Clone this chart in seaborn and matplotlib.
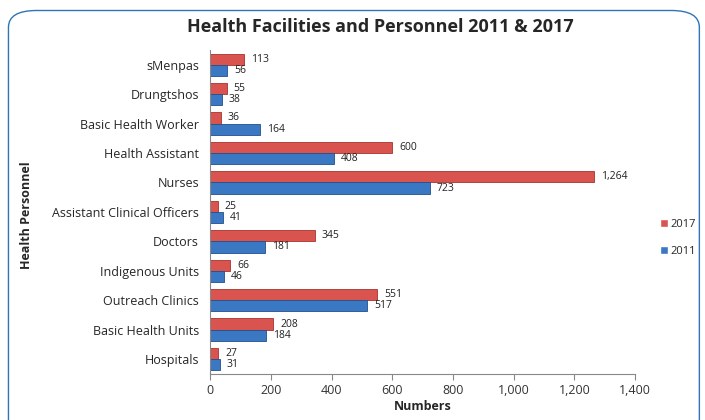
import pandas as pd
import matplotlib.pyplot as plt
import seaborn as sns
from matplotlib.patches import FancyBboxPatch

# categories top to bottom
categories = ["sMenpas", "Drungtshos", "Basic Health Worker", "Health Assistant", "Nurses",
              "Assistant Clinical Officers", "Doctors", "Indigenous Units", "Outreach Clinics",
              "Basic Health Units", "Hospitals"]
values_2017 = [113, 55, 36, 600, 1264, 25, 345, 66, 551, 208, 27]
values_2011 = [56, 38, 164, 408, 723, 41, 181, 46, 517, 184, 31]
years = ["2017", "2011"]
xticks = [0, 200, 400, 600, 800, 1000, 1200, 1400]

df = pd.DataFrame({
    "Category": categories * 2,
    "Year": [years[0]] * len(categories) + [years[1]] * len(categories),
    "Value": values_2017 + values_2011,
})

sns.set_style("white")
plt.rcParams['font.family'] = ['Open Sans', 'DejaVu Sans']

fig = plt.figure(figsize=(7.05, 4.2), dpi=100)
ax = fig.add_axes([0.298, 0.110, 0.603, 0.771])

palette = {"2017": "#D9534F", "2011": "#3A78C4"}
sns.barplot(data=df, y="Category", x="Value", hue="Year", hue_order=years, order=categories,
            palette=palette, saturation=1, width=0.76, orient="h", ax=ax, legend=True)

edges = {"2017": "#A8322F", "2011": "#234F8C"}
for cont, yr in zip(ax.containers, years):
    for bar in cont:
        bar.set_edgecolor(edges[yr])
        bar.set_linewidth(0.6)
    ax.bar_label(cont, labels=[f"{int(v):,}" for v in cont.datavalues], padding=5, fontsize=7.5, color="#222222")

ax.set_xlim(0, 1400)
ax.set_xticks(xticks)
ax.set_xticklabels([f"{t:,}" for t in xticks], fontsize=9, color="#333333")
ax.tick_params(axis="y", labelsize=9, length=0, pad=8)
ax.tick_params(axis="x", length=4, color="#888888", direction="out", bottom=True)
ax.set_xlabel("Numbers", fontsize=9, fontweight="bold", labelpad=2)
ax.set_ylabel("")
fig.text(0.038, 0.488, "Health Personnel", rotation=90, fontsize=9, fontweight="bold", ha="center", va="center")
for s in ["top", "right"]:
    ax.spines[s].set_visible(False)
ax.spines["left"].set_color("#888888")
ax.spines["bottom"].set_color("#888888")

handles, labels = ax.get_legend_handles_labels()
ax.legend(handles, labels, loc="center left", bbox_to_anchor=(1.035, 0.42), frameon=False,
          fontsize=8, handlelength=0.7, handleheight=0.7, handletextpad=0.2, labelspacing=1.4)

fig.suptitle("Health Facilities and Personnel 2011 & 2017", x=0.54, y=0.936, va="center",
             fontsize=13, fontweight="bold")

border = FancyBboxPatch((0.012, -0.05), 0.98, 1.025, boxstyle="round,pad=0,rounding_size=0.04",
                        transform=fig.transFigure, fill=False, edgecolor="#2E75B6", linewidth=1.0)
fig.patches.append(border)

fig.savefig("out.png", dpi=100)
